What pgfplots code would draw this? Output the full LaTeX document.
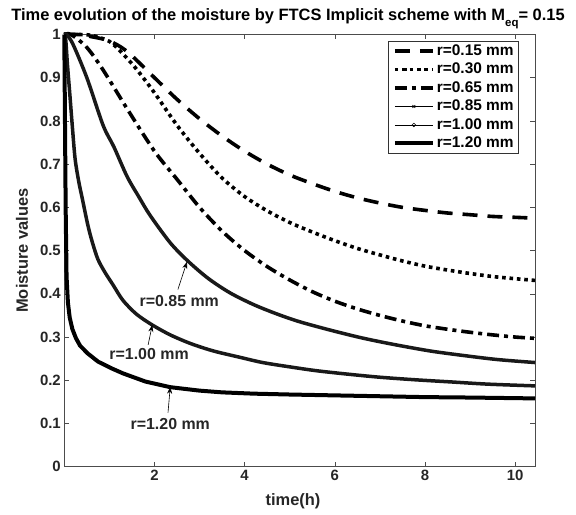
\documentclass[border=0pt]{standalone}
\usepackage{fontspec}
\setmainfont{Liberation Sans}
\usepackage{pgfplots}
\pgfplotsset{compat=1.18}
\usetikzlibrary{arrows.meta}
\begin{document}
\begin{tikzpicture}
\begin{axis}[
  at={(0,0)}, anchor=south west,
  scale only axis, width=470.7bp, height=432.2bp,
  xmin=0, xmax=10.44, ymin=0, ymax=1,
  xtick={2,4,6,8,10},
  ytick={0,0.1,0.2,0.3,0.4,0.5,0.6,0.7,0.8,0.9,1},
  tick align=inside, major tick length=5bp,
  axis line style={draw=black!70, line width=0.6bp},
  every tick/.style={black!70, line width=0.6bp},
  tick label style={font=\bfseries\fontsize{15}{15}\selectfont, text=black!85},
  /pgf/number format/assume math mode=true,
  yticklabel style={/pgf/number format/fixed, /pgf/number format/precision=1},
  xlabel={time(h)}, ylabel={Moisture values},
  label style={font=\bfseries\fontsize{16.5}{16.5}\selectfont, text=black!85},
  xlabel style={at={(axis description cs:0.486,-0.079)}, anchor=center},
  ylabel style={at={(axis description cs:-0.09,0.5)}, anchor=center},
  legend style={at={(0.966,0.9857)}, anchor=north east, draw=black!80, line width=0.6bp,
    font=\bfseries\fontsize{15.5}{15.5}\selectfont, fill=white,
    nodes={inner sep=0bp, text height=11.5bp, text depth=2.5bp},
    row sep=4.5bp, column sep=2bp, inner xsep=5bp, inner ysep=3bp},
  legend cell align=left,
  legend image code/.code={\draw[mark repeat=2,mark phase=2,#1] plot coordinates {(0bp,0bp) (19bp,0bp) (38bp,0bp)};},
  clip=false,
]
% r=0.15
\addplot[black, line width=3.6bp, dash pattern=on 15bp off 10bp, smooth] coordinates {
(0,1) (0.3,1) (0.6,0.995) (1.0,0.985) (1.4,0.96) (2.0,0.90) (2.5,0.85) (3.0,0.805) (3.5,0.765) (4.0,0.73) (4.5,0.70) (5.0,0.675) (5.5,0.655) (6.0,0.637) (6.5,0.622) (7.0,0.61) (7.5,0.60) (8.0,0.593) (8.5,0.587) (9.0,0.583) (9.5,0.579) (10.0,0.577) (10.44,0.575)};
\addlegendentry{r=0.15 mm}
% r=0.30
\addplot[black, line width=3.6bp, dash pattern=on 3.6bp off 3.8bp, smooth] coordinates {
(0,1) (0.3,1) (0.6,0.998) (1.0,0.984) (1.3,0.955) (1.6,0.92) (2.0,0.865) (2.5,0.79) (3.0,0.725) (3.5,0.668) (4.0,0.625) (4.5,0.592) (5.0,0.565) (5.5,0.543) (6.0,0.523) (6.5,0.505) (7.0,0.49) (7.5,0.476) (8.0,0.464) (8.5,0.455) (9.0,0.447) (9.5,0.44) (10.0,0.435) (10.44,0.431)};
\addlegendentry{r=0.30 mm}
% r=0.65
\addplot[black, line width=3.6bp, dash pattern=on 12bp off 5bp on 4bp off 5bp, smooth] coordinates {
(0,1) (0.15,1) (0.5,0.97) (0.86,0.918) (1.4,0.827) (2.0,0.73) (2.5,0.665) (3.0,0.6) (3.5,0.545) (4.0,0.5) (4.5,0.463) (5.0,0.432) (5.5,0.405) (6.0,0.383) (6.5,0.365) (7.0,0.35) (7.5,0.337) (8.0,0.326) (8.5,0.318) (9.0,0.311) (9.5,0.305) (10.0,0.3) (10.44,0.297)};
\addlegendentry{r=0.65 mm}
% r=0.85
\addplot[black!90, line width=3.5bp, smooth, forget plot] coordinates {
(0,1) (0.05,1) (0.19,0.978) (0.5,0.90) (0.86,0.79) (1.1,0.74) (1.39,0.672) (1.65,0.625) (1.9,0.582) (2.35,0.518) (2.75,0.475) (3.2,0.435) (3.68,0.402) (4.2,0.375) (4.7,0.354) (5.2,0.336) (5.9,0.316) (6.6,0.298) (7.3,0.283) (8.1,0.268) (8.8,0.258) (9.6,0.248) (10.44,0.241)};
\addlegendimage{black, line width=0.6bp, mark=x, mark size=2bp}
\addlegendentry{r=0.85 mm}
% r=1.00
\addplot[black!90, line width=3.5bp, smooth, forget plot] coordinates {
(0,1) (0.03,0.99) (0.07,0.93) (0.12,0.865) (0.18,0.785) (0.24,0.712) (0.32,0.66) (0.4,0.62) (0.52,0.56) (0.62,0.52) (0.745,0.48) (0.9,0.45) (1.085,0.42) (1.3,0.385) (1.6,0.353) (1.95,0.328) (2.35,0.305) (2.8,0.285) (3.3,0.268) (3.9,0.253) (4.4,0.241) (5.0,0.231) (5.6,0.222) (6.3,0.214) (7.0,0.207) (7.8,0.201) (8.6,0.196) (9.4,0.191) (10.44,0.187)};
\addlegendimage{black, line width=0.6bp, mark=o, mark size=1.8bp}
\addlegendentry{r=1.00 mm}
% r=1.20
\addplot[black, line width=4bp] coordinates {
(0,1) (0.03,0.6) (0.05,0.44) (0.08,0.38) (0.12,0.345) (0.18,0.318) (0.26,0.297) (0.35,0.28) (0.52,0.262) (0.75,0.243) (1.06,0.227) (1.3,0.216) (1.8,0.197) (2.35,0.184) (3.0,0.176) (3.5,0.172) (4.2,0.169) (5.0,0.167) (6,0.165) (7,0.163) (8,0.161) (9,0.16) (10.44,0.158)};
\addlegendentry{r=1.20 mm}
% annotations
\draw[black, line width=0.6bp, -{Stealth[length=7bp,width=5bp]}] (axis cs:2.52,0.41) -- (axis cs:2.72,0.474);
\node[font=\bfseries\fontsize{16}{16}\selectfont, text=black!85] at (axis cs:2.55,0.384) {r=0.85 mm};
\draw[black, line width=0.6bp, -{Stealth[length=7bp,width=5bp]}] (axis cs:1.86,0.282) -- (axis cs:1.95,0.328);
\node[font=\bfseries\fontsize{16}{16}\selectfont, text=black!85] at (axis cs:1.88,0.261) {r=1.00 mm};
\draw[black, line width=0.6bp, -{Stealth[length=7bp,width=5bp]}] (axis cs:2.30,0.125) -- (axis cs:2.35,0.185);
\node[font=\bfseries\fontsize{16}{16}\selectfont, text=black!85] at (axis cs:2.35,0.099) {r=1.20 mm};
\end{axis}
\node[anchor=base, font=\bfseries\fontsize{16.5}{16.5}\selectfont] at (223.7bp,445.7bp) {Time evolution of the moisture by FTCS Implicit scheme with M\raisebox{-6bp}{\fontsize{11.5}{11.5}\selectfont eq}= 0.15};
\pgfresetboundingbox
\path[use as bounding box] (-64.3bp,-48.3bp) rectangle (511.7bp,466.7bp);
\end{tikzpicture}
\end{document}
